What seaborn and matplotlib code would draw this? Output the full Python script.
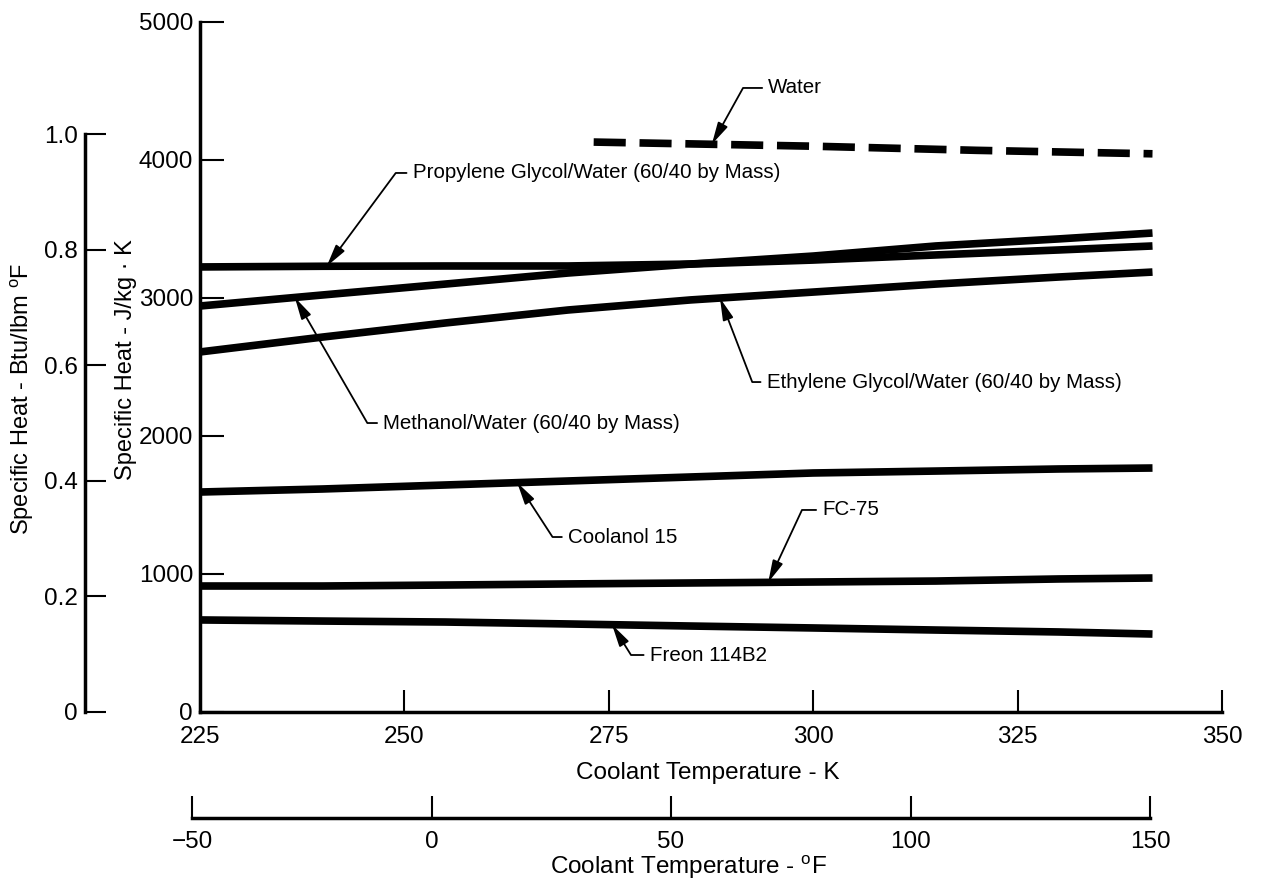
import numpy as np
import pandas as pd
import seaborn as sns
import matplotlib.pyplot as plt


# coolant temperature (K) at which the curves were read
temps_k = [225, 240, 255, 270, 285, 300, 315, 330, 341.5]
water_k = [273.15, 300, 320, 341.5]

# specific heat, J/kg K
water = [4130, 4100, 4070, 4045]
propylene = [3225, 3230, 3232, 3232, 3246, 3275, 3312, 3348, 3377]
methanol = [2942, 3022, 3101, 3181, 3246, 3304, 3377, 3428, 3471]
ethylene = [2609, 2717, 2819, 2913, 2986, 3043, 3101, 3152, 3188]
coolanol = [1594, 1616, 1645, 1674, 1703, 1732, 1746, 1761, 1768]
fc75 = [913, 913, 920, 928, 935, 942, 949, 964, 971]
freon = [667, 659, 652, 638, 623, 609, 594, 580, 565]

k_ticks = [225, 250, 275, 300, 325, 350]
j_ticks = [0, 1000, 2000, 3000, 4000, 5000]
btu_ticks = [0, 0.2, 0.4, 0.6, 0.8, 1.0]
f_ticks = [-50, 0, 50, 100, 150]

# label, series, arrow tip (K), text position (K, J/kg K), leader angle
labels = [
    ("Water", "water", 287.6, 294.5, 4522, 61),
    ("Propylene Glycol/Water (60/40 by Mass)", "propylene", 240.5, 251.0, 3906, 53.5),
    ("Methanol/Water (60/40 by Mass)", "methanol", 236.6, 247.4, 2094, 120),
    ("Ethylene Glycol/Water (60/40 by Mass)", "ethylene", 288.6, 294.3, 2391, 111),
    ("Coolanol 15", "coolanol", 263.8, 270.0, 1268, 123),
    ("FC-75", "fc75", 294.5, 301.1, 1464, 65),
    ("Freon 114B2", "freon", 275.4, 280.0, 413, 122),
]

J_PER_BTU = 4186.8


def build_frame():
    series = {
        "propylene": propylene, "methanol": methanol, "ethylene": ethylene,
        "coolanol": coolanol, "fc75": fc75, "freon": freon,
    }
    rows = []
    for name, vals in series.items():
        for t, v in zip(temps_k, vals):
            rows.append((name, t, v))
    for t, v in zip(water_k, water):
        rows.append(("water", t, v))
    return pd.DataFrame(rows, columns=["fluid", "temp", "cp"])


def main():
    sns.set_theme(style="white")
    plt.rcParams["font.family"] = ["Liberation Sans", "DejaVu Sans"]
    plt.rcParams["mathtext.fontset"] = "custom"
    plt.rcParams["mathtext.rm"] = "Liberation Sans"
    plt.rcParams["text.color"] = "black"
    plt.rcParams["axes.labelcolor"] = "black"

    df = build_frame()
    W, H = 1261, 883
    fig = plt.figure(figsize=(W / 100, H / 100), dpi=100)

    ax = fig.add_axes([200 / W, 1 - 712 / H, 1022 / W, 690 / H])
    fluids = df["fluid"].unique()
    palette = {f: "black" for f in fluids}
    dashes = {f: "" for f in fluids}
    dashes["water"] = (4.2, 1.8)
    sns.lineplot(data=df, x="temp", y="cp", hue="fluid", style="fluid",
                 palette=palette, dashes=dashes, linewidth=5.5,
                 legend=False, ax=ax, solid_capstyle="butt")

    ax.set_xlim(225, 350)
    ax.set_ylim(0, 5000)
    ax.set_xticks(k_ticks)
    ax.set_yticks(j_ticks)
    for s in ["top", "right"]:
        ax.spines[s].set_visible(False)
    for s in ["left", "bottom"]:
        ax.spines[s].set_linewidth(2.5)
        ax.spines[s].set_color("black")
    ax.tick_params(axis="x", bottom=True, direction="in", length=16, width=1.5,
                   labelsize=17.5, pad=10, colors="black")
    ax.tick_params(axis="y", left=True, direction="in", length=17, width=1.5,
                   labelsize=17.5, pad=5, colors="black")
    ax.set_xlabel("Coolant Temperature - K", fontsize=17.5)
    ax.xaxis.set_label_coords(708 / W, 1 - 762 / H, transform=fig.transFigure)
    ax.set_ylabel("Specific Heat - J/kg · K", fontsize=17)
    ax.yaxis.set_label_coords(137 / W, 1 - 360 / H, transform=fig.transFigure)

    curves = {name: grp.sort_values("temp") for name, grp in df.groupby("fluid")}
    for text, name, tip_k, tx, ty, ang in labels:
        grp = curves[name]
        tip_j = np.interp(tip_k, grp["temp"], grp["cp"])
        ax.annotate(text, xy=(tip_k, tip_j), xytext=(tx, ty),
                    ha="left", va="center", fontsize=14.8, zorder=5,
                    arrowprops=dict(arrowstyle="-|>,head_length=0.9,head_width=0.22",
                                    connectionstyle=f"angle,angleA=0,angleB={ang},rad=0",
                                    relpos=(0, 0.5), color="black", lw=1.3,
                                    shrinkA=2, shrinkB=0))

    # secondary specific heat scale, Btu/lbm F
    ax2 = fig.add_axes([85 / W, 1 - 712 / H, 0.0005, 690 / H])
    ax2.set_ylim(0, 5000 / J_PER_BTU)
    ax2.set_yticks(btu_ticks)
    ax2.set_yticklabels(["0", "0.2", "0.4", "0.6", "0.8", "1.0"])
    ax2.set_xticks([])
    ax2.patch.set_visible(False)
    for s in ["top", "right", "bottom"]:
        ax2.spines[s].set_visible(False)
    ax2.spines["left"].set_bounds(0, 1.0)
    ax2.spines["left"].set_linewidth(2.5)
    ax2.spines["left"].set_color("black")
    ax2.tick_params(axis="y", left=True, direction="in", length=15, width=1.5,
                    labelsize=17.5, pad=5, colors="black")
    ax2.set_ylabel(r"Specific Heat - Btu/lbm $^{\mathrm{o}}$F", fontsize=17)
    ax2.yaxis.set_label_coords(36 / W, 1 - 399 / H, transform=fig.transFigure)

    # coolant temperature in F
    ax3 = fig.add_axes([192 / W, 1 - 818 / H, 958 / W, 0.0005])
    ax3.set_xlim(-50, 150)
    ax3.set_xticks(f_ticks)
    ax3.set_yticks([])
    ax3.patch.set_visible(False)
    for s in ["top", "right", "left"]:
        ax3.spines[s].set_visible(False)
    ax3.spines["bottom"].set_linewidth(2.5)
    ax3.spines["bottom"].set_color("black")
    ax3.tick_params(axis="x", bottom=True, direction="in", length=16, width=1.5,
                    labelsize=17.5, pad=9, colors="black")
    ax3.set_xlabel(r"Coolant Temperature - $^{\mathrm{o}}$F", fontsize=17.5)
    ax3.xaxis.set_label_coords(688 / W, 1 - 853 / H, transform=fig.transFigure)

    fig.savefig("out.png", dpi=100)


if __name__ == "__main__":
    main()
